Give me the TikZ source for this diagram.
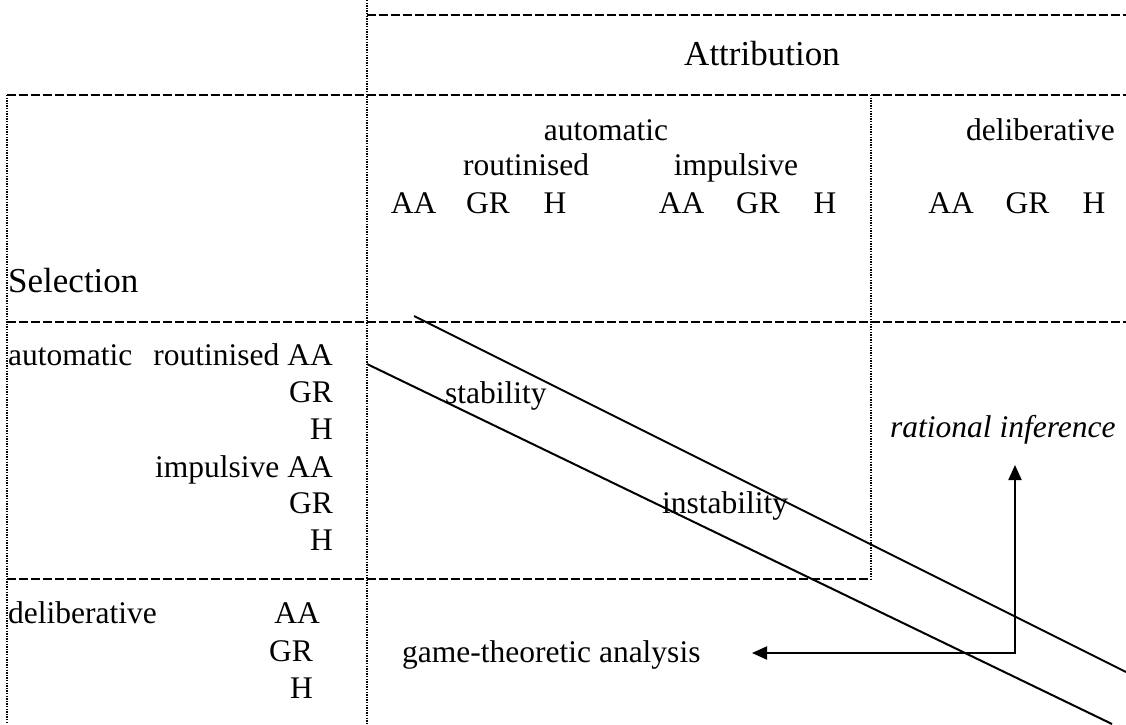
\documentclass[tikz,border=0pt]{standalone}
\usepackage{fontspec}
\setmainfont{Liberation Serif}
\usetikzlibrary{arrows.meta}
\begin{document}
\begin{tikzpicture}[x=1pt,y=-1pt,
  txt/.style={inner sep=0pt,font=\fontsize{31.5}{36}\selectfont},
  big/.style={inner sep=0pt,font=\fontsize{35}{40}\selectfont},
  dash line/.style={line width=2.2pt,dash pattern=on 9pt off 3pt},
  dot line/.style={line width=1.3pt,dash pattern=on 1.3pt off 1.3pt},
  solid line/.style={line width=2pt},
  arr/.style={line width=2pt,{Triangle[length=15pt,width=13pt]}-{Triangle[length=15pt,width=13pt]}}]
\useasboundingbox[fill=white] (0,0) rectangle (1126,724);
% grid lines
\draw[dot line] (367,0) -- (367,724);
\draw[dot line] (7,95) -- (7,724);
\draw[dot line] (871,95) -- (871,579);
\draw[dash line] (367,15) -- (1126,15);
\draw[dash line] (7,95) -- (1126,95);
\draw[dash line] (7,322) -- (1126,322);
\draw[dash line] (7,579) -- (871,579);
% diagonals
\draw[solid line] (414,316) -- (1126,672);
\draw[solid line] (367,364) -- (1112,724);
% headers
\node[big,anchor=base] (attr) at (762,65) {Attribution};
\node[big,anchor=base west] (sel) at (8,292) {Selection};
\node[txt,anchor=base] (hauto) at (606,140) {automatic};
\node[txt,anchor=base east] (hdelib) at (1115,140) {deliberative};
\node[txt,anchor=base] (hrout) at (526,175) {routinised};
\node[txt,anchor=base] (himp) at (736,175) {impulsive};
\node[txt,anchor=base] (c1) at (413.5,213) {AA};
\node[txt,anchor=base] (c2) at (488,213) {GR};
\node[txt,anchor=base] (c3) at (555,213) {H};
\node[txt,anchor=base] (c4) at (681.5,213) {AA};
\node[txt,anchor=base] (c5) at (758,213) {GR};
\node[txt,anchor=base] (c6) at (825,213) {H};
\node[txt,anchor=base] (c7) at (951,213) {AA};
\node[txt,anchor=base] (c8) at (1027.5,213) {GR};
\node[txt,anchor=base] (c9) at (1094,213) {H};
% rows
\node[txt,anchor=base west] (rauto) at (8,365) {automatic};
\node[txt,anchor=base east] (r1) at (333,365) {routinised AA};
\node[txt,anchor=base east] (r2) at (333,402) {GR};
\node[txt,anchor=base east] (r3) at (333,439) {H};
\node[txt,anchor=base east] (r4) at (333,477) {impulsive AA};
\node[txt,anchor=base east] (r5) at (333,513) {GR};
\node[txt,anchor=base east] (r6) at (333,550) {H};
\node[txt,anchor=base west] (rdelib) at (8,623) {deliberative};
\node[txt,anchor=base east] (r7) at (320,623) {AA};
\node[txt,anchor=base east] (r8) at (313,661) {GR};
\node[txt,anchor=base east] (r9) at (313,698) {H};
% cell labels
\node[txt,anchor=base west] (stab) at (445,403) {stability};
\node[txt,anchor=base west] (instab) at (662,513) {instability};
\node[txt,anchor=base west] (game) at (402,662) {game-theoretic analysis};
\node[txt,anchor=base west] (rat) at (890,437) {\itshape rational inference};
% arrow
\coordinate (gtip) at (752,653);
\coordinate (rtip) at (1015,465);
\draw[arr] (gtip) -| (rtip);
\end{tikzpicture}
\end{document}
